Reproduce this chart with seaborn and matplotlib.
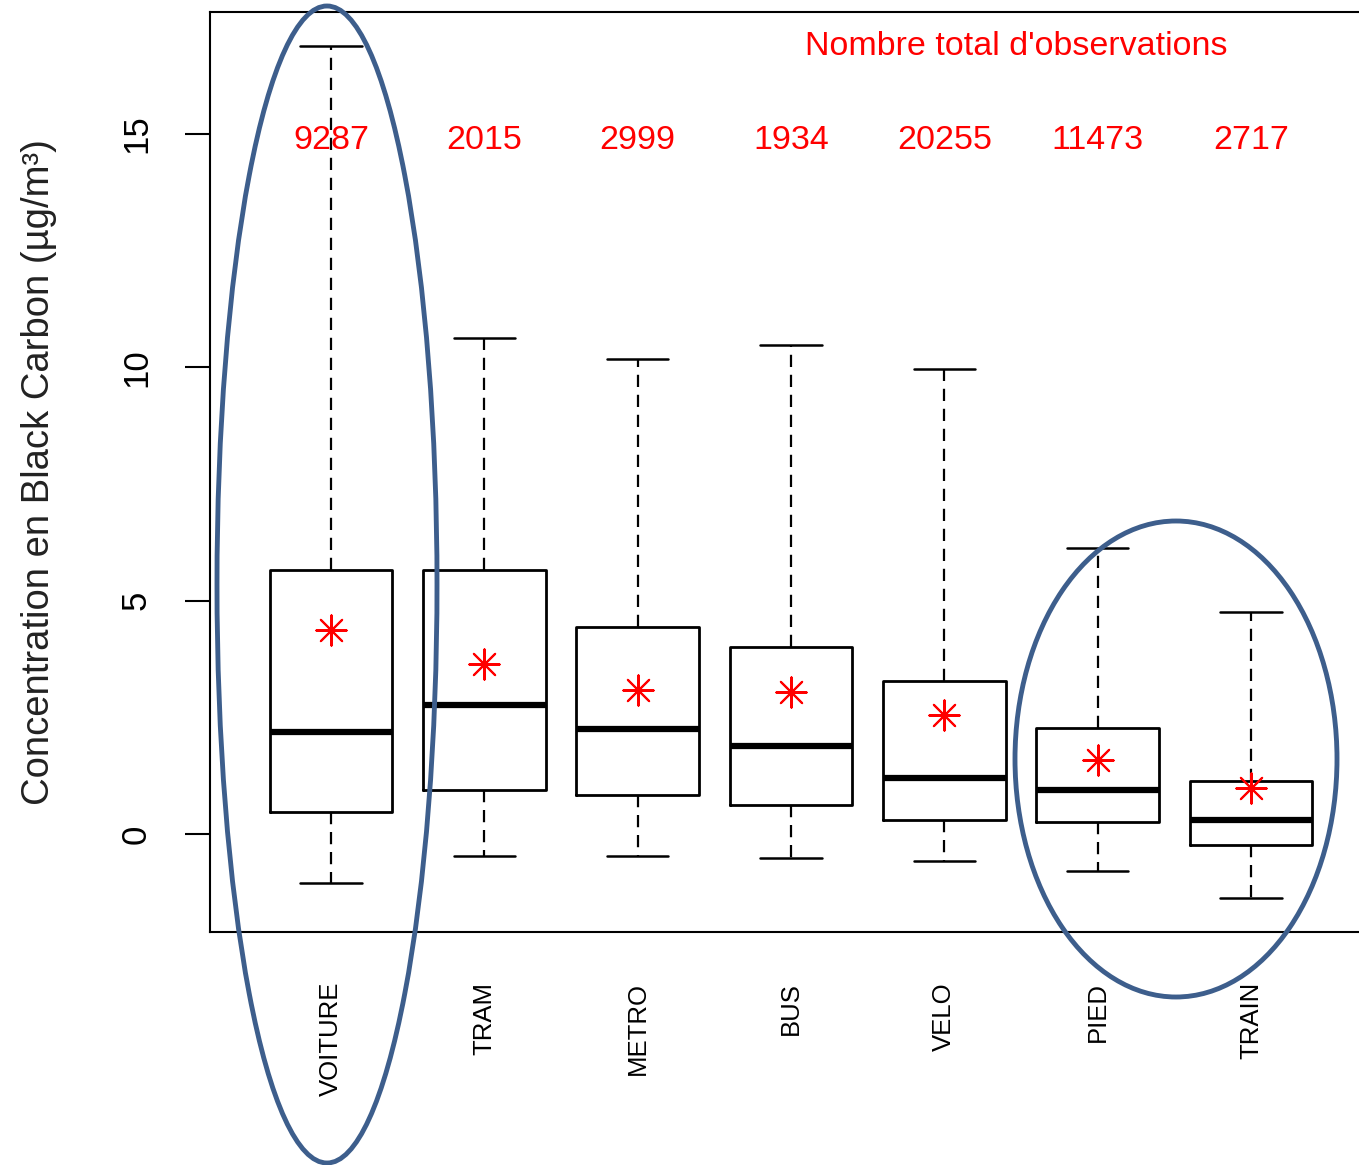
import numpy as np
import matplotlib
matplotlib.use("Agg")
import matplotlib.pyplot as plt
from matplotlib.patches import Ellipse
import seaborn as sns

# Box summaries (concentration in ug/m3)
modes = ["VOITURE", "TRAM", "METRO", "BUS", "VELO", "PIED", "TRAIN"]
whisker_low = [-1.05, -0.47, -0.47, -0.51, -0.58, -0.79, -1.37]
q1 = [0.47, 0.94, 0.84, 0.62, 0.30, 0.26, -0.24]
median = [2.19, 2.76, 2.25, 1.89, 1.20, 0.94, 0.30]
q3 = [5.66, 5.66, 4.44, 4.01, 3.28, 2.27, 1.14]
whisker_high = [16.88, 10.63, 10.18, 10.48, 9.96, 6.13, 4.76]
mean = [4.37, 3.64, 3.09, 3.04, 2.55, 1.59, 0.99]
n_obs = [9287, 2015, 2999, 1934, 20255, 11473, 2717]

sns.set_style("ticks")
plt.rcParams["font.family"] = ["Liberation Sans", "DejaVu Sans"]

fig = plt.figure(figsize=(13.59, 11.65), dpi=100)
ax = fig.add_axes([210 / 1359, 1 - 932 / 1165, (1372 - 210) / 1359, 920 / 1165])

positions = np.arange(len(modes))

stats = []
for i, m in enumerate(modes):
    stats.append({
        "label": m,
        "whislo": whisker_low[i],
        "q1": q1[i],
        "med": median[i],
        "q3": q3[i],
        "whishi": whisker_high[i],
        "fliers": [],
    })

ax.bxp(
    stats,
    positions=positions,
    widths=0.8,
    capwidths=0.4,
    showfliers=False,
    manage_ticks=False,
    boxprops=dict(color="black", linewidth=2),
    whiskerprops=dict(color="black", linewidth=1.6, linestyle=(0, (5.5, 3.5))),
    capprops=dict(color="black", linewidth=1.8),
    medianprops=dict(color="black", linewidth=4.5, solid_capstyle="butt"),
)

# Means as red asterisks
sns.scatterplot(
    x=positions, y=mean, marker=(8, 2, 0), s=470,
    color="red", linewidth=1.5, ax=ax, zorder=5, legend=False
)

# Number of observations above each box
for i, n in enumerate(n_obs):
    ax.text(positions[i], 14.85, str(n), ha="center", va="center",
            color="red", fontsize=24.5)
ax.text(4.47, 16.87, "Nombre total d'observations", ha="center", va="center",
        color="red", fontsize=24.5)

ax.set_xlim(-0.79, 6.79)
ax.set_ylim(-2.1, 17.61)
ax.set_yticks([0, 5, 10, 15])
ax.set_xticks(positions)
ax.set_xticklabels(modes)

ax.tick_params(axis="y", length=18, width=1.5, pad=23, labelsize=25,
               labelrotation=90, colors="black")
for lab in ax.get_yticklabels():
    lab.set_va("center")
ax.tick_params(axis="x", length=0, pad=36, labelsize=18.5, labelrotation=90,
               colors="black")

ax.set_ylabel("Concentration en Black Carbon (µg/m³)", fontsize=27.5, color="#222222")
ax.yaxis.set_label_coords(-0.132, 0.5)
ax.set_xlabel("")

for side in ["left", "bottom", "top"]:
    ax.spines[side].set_linewidth(1.5)
    ax.spines[side].set_color("black")
ax.spines["right"].set_visible(False)

# Highlight ellipses
ell_color = "#3d5e8c"
fig.add_artist(Ellipse((3.27, 5.805), 2.2, 11.57, fill=False,
                       edgecolor=ell_color, linewidth=3.5,
                       transform=fig.dpi_scale_trans))
fig.add_artist(Ellipse((11.76, 4.06), 3.22, 4.76, fill=False,
                       edgecolor=ell_color, linewidth=3.5,
                       transform=fig.dpi_scale_trans))

fig.savefig("out.png", dpi=100)
